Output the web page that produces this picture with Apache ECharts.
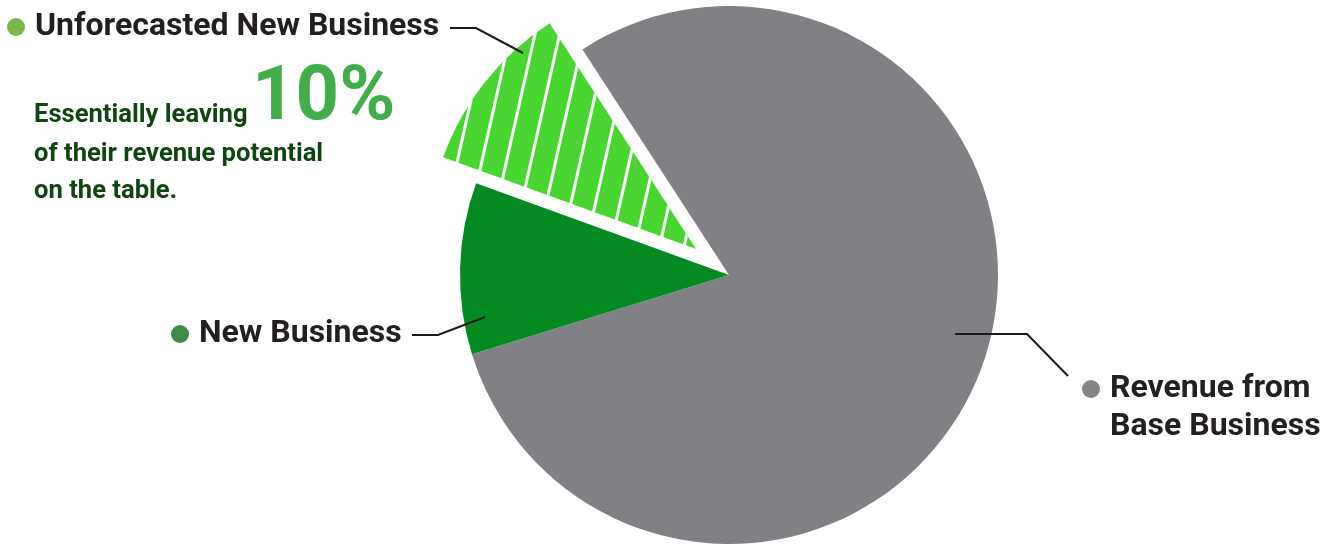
<!DOCTYPE html>
<html lang="en">
<head>
    <meta charset="UTF-8">
    <title>Revenue potential</title>
    <script src="https://cdn.jsdelivr.net/npm/echarts@6/dist/echarts.min.js"></script>
    <style>
        html, body { margin: 0; padding: 0; background: #fff; }
        #chart { width: 1333px; height: 545px; }
    </style>
</head>
<body>
    <div id="chart"></div>
    <script>
        // data
        const categories = ['Revenue from Base Business', 'New Business', 'Unforecasted New Business'];
        const shares = [79.4, 10.3, 10.3];
        const sliceColors = ['#818185', '#038b21', '#48d52f'];
        const dotColors = ['#858588', '#3b8c46', '#79b849'];
        const labelTexts = ['Revenue from\nBase Business', 'New Business', 'Unforecasted New Business'];
        const noteLines = ['Essentially leaving', 'of their revenue potential', 'on the table.'];
        const notePercent = '10%';

        // layout (pixels)
        const pieCenter = [729, 275];
        const pieRadius = 269;
        const startAngle = 123;
        const explodeIdx = 2;
        const explodeDist = 42;
        const labelPos = [
            { x: 1082, y: 408, line: [[955, 334], [1027, 334], [1068, 376]] },
            { x: 171, y: 334, line: [[485, 317], [438, 335], [412, 335]] },
            { x: 7, y: 27, line: [[523, 53], [476, 28], [450, 28]] }
        ];

        // exploded slice gets its own centre, moved out along its bisector
        const total = shares.reduce((a, b) => a + b, 0);
        const before = shares.slice(0, explodeIdx).reduce((a, b) => a + b, 0);
        const midDeg = startAngle - 360 * (before + shares[explodeIdx] / 2) / total;
        const midRad = midDeg * Math.PI / 180;
        const explodedCenter = [
            pieCenter[0] + explodeDist * Math.cos(midRad),
            pieCenter[1] - explodeDist * Math.sin(midRad)
        ];

        const chart = echarts.init(document.getElementById('chart'));

        function labelFormatter(p) {
            const parts = labelTexts[p.dataIndex].split('\n');
            return parts.map((t, i) => (i === 0 ? '{d' + p.dataIndex + '|}{g|}' : '{sp|}') + '{t|' + t + '}').join('\n');
        }

        const rich = {
            g: { width: 10 },
            sp: { width: 28 },
            t: { fontSize: 32, fontWeight: 'bold', color: '#231f20', fontFamily: 'Roboto', lineHeight: 38 }
        };
        dotColors.forEach((c, i) => {
            rich['d' + i] = { width: 18, height: 18, borderRadius: 9, backgroundColor: c };
        });

        function layoutLabel(params) {
            const pos = labelPos[params.dataIndex];
            return { x: pos.x, y: pos.y, align: 'left', verticalAlign: 'middle' };
        }

        const hatch = {
            symbol: 'rect',
            symbolSize: 1,
            dashArrayX: [1, 0],
            dashArrayY: [3, 21],
            rotation: -1.35,
            color: '#ffffff'
        };

        function pieSeries(center, showIdx) {
            return {
                type: 'pie',
                center: center,
                radius: pieRadius,
                startAngle: startAngle,
                clockwise: true,
                silent: true,
                emphasis: { disabled: true },
                label: {
                    show: true,
                    position: 'outside',
                    overflow: 'none',
                    formatter: labelFormatter,
                    rich: rich
                },
                labelLine: { show: false },
                labelLayout: layoutLabel,
                data: categories.map((name, i) => {
                    const on = showIdx(i);
                    const style = { color: on ? sliceColors[i] : 'rgba(0,0,0,0)' };
                    if (on && i === explodeIdx) style.decal = hatch;
                    return { name: name, value: shares[i], itemStyle: style, label: { show: on } };
                })
            };
        }

        const option = {
            animation: false,
            series: [
                pieSeries(pieCenter, i => i !== explodeIdx),
                pieSeries(explodedCenter, i => i === explodeIdx)
            ],
            graphic: labelPos.map(p => ({
                type: 'polyline',
                z: 100,
                silent: true,
                shape: { points: p.line },
                style: { stroke: '#1a1a1a', lineWidth: 2, fill: null }
            })).concat([
                { type: 'text', left: 34, top: 103, style: { text: noteLines[0], font: 'bold 25.6px Roboto', fill: '#0e4510' } },
                { type: 'text', left: 34, top: 142, style: { text: noteLines[1], font: 'bold 25.6px Roboto', fill: '#0e4510' } },
                { type: 'text', left: 34, top: 179, style: { text: noteLines[2], font: 'bold 25.6px Roboto', fill: '#0e4510' } },
                { type: 'text', left: 252, top: 62, style: { text: notePercent, font: 'bold 76px Roboto', fill: '#41ae4a' } }
            ])
        };

        chart.setOption(option);
    </script>
</body>
</html>
